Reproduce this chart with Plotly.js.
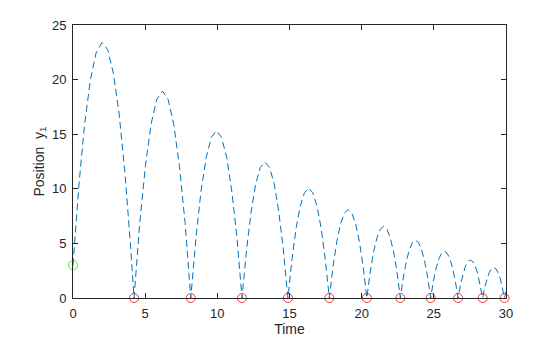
<!DOCTYPE html>
<html>
<head>
<meta charset="utf-8">
<script src="https://cdn.plot.ly/plotly-3.0.1.min.js"></script>
<style>html,body{margin:0;padding:0;background:#fff;}#chart{width:560px;height:337px;}</style>
</head>
<body>
<div id="chart"></div>
<script>
// Ball trajectory (time, position y1)
const time = [
  0, 0.4, 0.8, 1.2, 1.6, 2.0, 2.4, 2.8, 3.2, 3.6, 4.0, 4.23,
  4.62, 5.02, 5.41, 5.80, 6.20, 6.59, 6.98, 7.37, 7.77, 8.16,
  8.52, 8.87, 9.23, 9.58, 9.94, 10.29, 10.65, 11.0, 11.36, 11.71,
  12.03, 12.35, 12.66, 12.98, 13.30, 13.62, 13.94, 14.25, 14.57, 14.89,
  15.18, 15.46, 15.75, 16.04, 16.33, 16.61, 16.90, 17.19, 17.47, 17.76,
  18.02, 18.28, 18.54, 18.80, 19.06, 19.32, 19.58, 19.84, 20.10, 20.36,
  20.59, 20.82, 21.06, 21.29, 21.52, 21.75, 21.98, 22.22, 22.45, 22.68,
  22.89, 23.10, 23.31, 23.52, 23.73, 23.94, 24.15, 24.36, 24.57, 24.78,
  24.97, 25.16, 25.35, 25.54, 25.73, 25.92, 26.11, 26.30, 26.49, 26.68,
  26.85, 27.02, 27.19, 27.36, 27.53, 27.70, 27.87, 28.04, 28.21, 28.38,
  28.53, 28.68, 28.84, 28.99, 29.14, 29.29, 29.44, 29.60, 29.75, 29.90,
  30.0
];
const position = [
  3.0, 10.21, 15.86, 19.94, 22.45, 23.39, 22.76, 20.57, 16.8, 11.46, 4.56, 0,
  6.82, 12.13, 15.92, 18.19, 18.95, 18.19, 15.92, 12.13, 6.82, 0,
  5.52, 9.80, 12.87, 14.71, 15.32, 14.71, 12.87, 9.80, 5.52, 0,
  4.48, 7.97, 10.46, 11.95, 12.45, 11.95, 10.46, 7.97, 4.48, 0,
  3.62, 6.43, 8.44, 9.65, 10.05, 9.65, 8.44, 6.43, 3.62, 0,
  2.92, 5.18, 6.80, 7.78, 8.10, 7.78, 6.80, 5.18, 2.92, 0,
  2.36, 4.20, 5.51, 6.30, 6.56, 6.30, 5.51, 4.20, 2.36, 0,
  1.91, 3.39, 4.45, 5.09, 5.30, 5.09, 4.45, 3.39, 1.91, 0,
  1.54, 2.74, 3.60, 4.11, 4.28, 4.11, 3.60, 2.74, 1.54, 0,
  1.25, 2.23, 2.92, 3.34, 3.48, 3.34, 2.92, 2.23, 1.25, 0,
  1.01, 1.79, 2.35, 2.69, 2.80, 2.69, 2.35, 1.79, 1.01, 0,
  0.62
];
// Event (bounce) points
const eventTimes = [4.23, 8.16, 11.71, 14.89, 17.76, 20.36, 22.68, 24.78, 26.68, 28.38, 29.90];
const eventPositions = [0, 0, 0, 0, 0, 0, 0, 0, 0, 0, 0];
// Start point
const startTime = [0];
const startPosition = [3];
const xTicks = [0, 5, 10, 15, 20, 25, 30];
const yTicks = [0, 5, 10, 15, 20, 25];

const axisColor = '#262626';
const fontFam = 'Liberation Sans, Arial, sans-serif';
const data = [
  {x: time, y: position, type: 'scatter', mode: 'lines',
   line: {color: '#0072BD', width: 1, dash: '7px,4px'}, hoverinfo: 'skip'},
  {x: eventTimes, y: eventPositions, type: 'scatter', mode: 'markers', cliponaxis: false,
   marker: {symbol: 'circle-open', size: 9, color: '#FF0000', line: {width: 0.8}}},
  {x: startTime, y: startPosition, type: 'scatter', mode: 'markers', cliponaxis: false,
   marker: {symbol: 'circle-open', size: 9, color: '#00FF00', line: {width: 0.8}}}
];
const axisCommon = {
  showgrid: false, zeroline: false, showline: true, linecolor: axisColor, linewidth: 1,
  mirror: 'ticks', ticks: 'inside', ticklen: 5, tickcolor: axisColor, tickwidth: 1,
  ticklabelstandoff: 3,
  tickfont: {family: fontFam, size: 13, color: axisColor}
};
const layout = {
  width: 560, height: 337,
  margin: {l: 73, r: 54, t: 25, b: 39},
  paper_bgcolor: '#fff', plot_bgcolor: '#fff',
  showlegend: false,
  xaxis: Object.assign({}, axisCommon, {
    range: [0, 30], tickvals: xTicks, ticktext: xTicks.map(String),
    title: {text: 'Time', font: {family: fontFam, size: 14, color: axisColor}, standoff: 2}
  }),
  yaxis: Object.assign({}, axisCommon, {
    range: [0, 25], tickvals: yTicks, ticktext: yTicks.map(String),
    title: {text: 'Position  y<sub>1</sub>', font: {family: fontFam, size: 14, color: axisColor}, standoff: 4}
  })
};
Plotly.newPlot('chart', data, layout, {displayModeBar: false, staticPlot: true});
</script>
</body>
</html>
